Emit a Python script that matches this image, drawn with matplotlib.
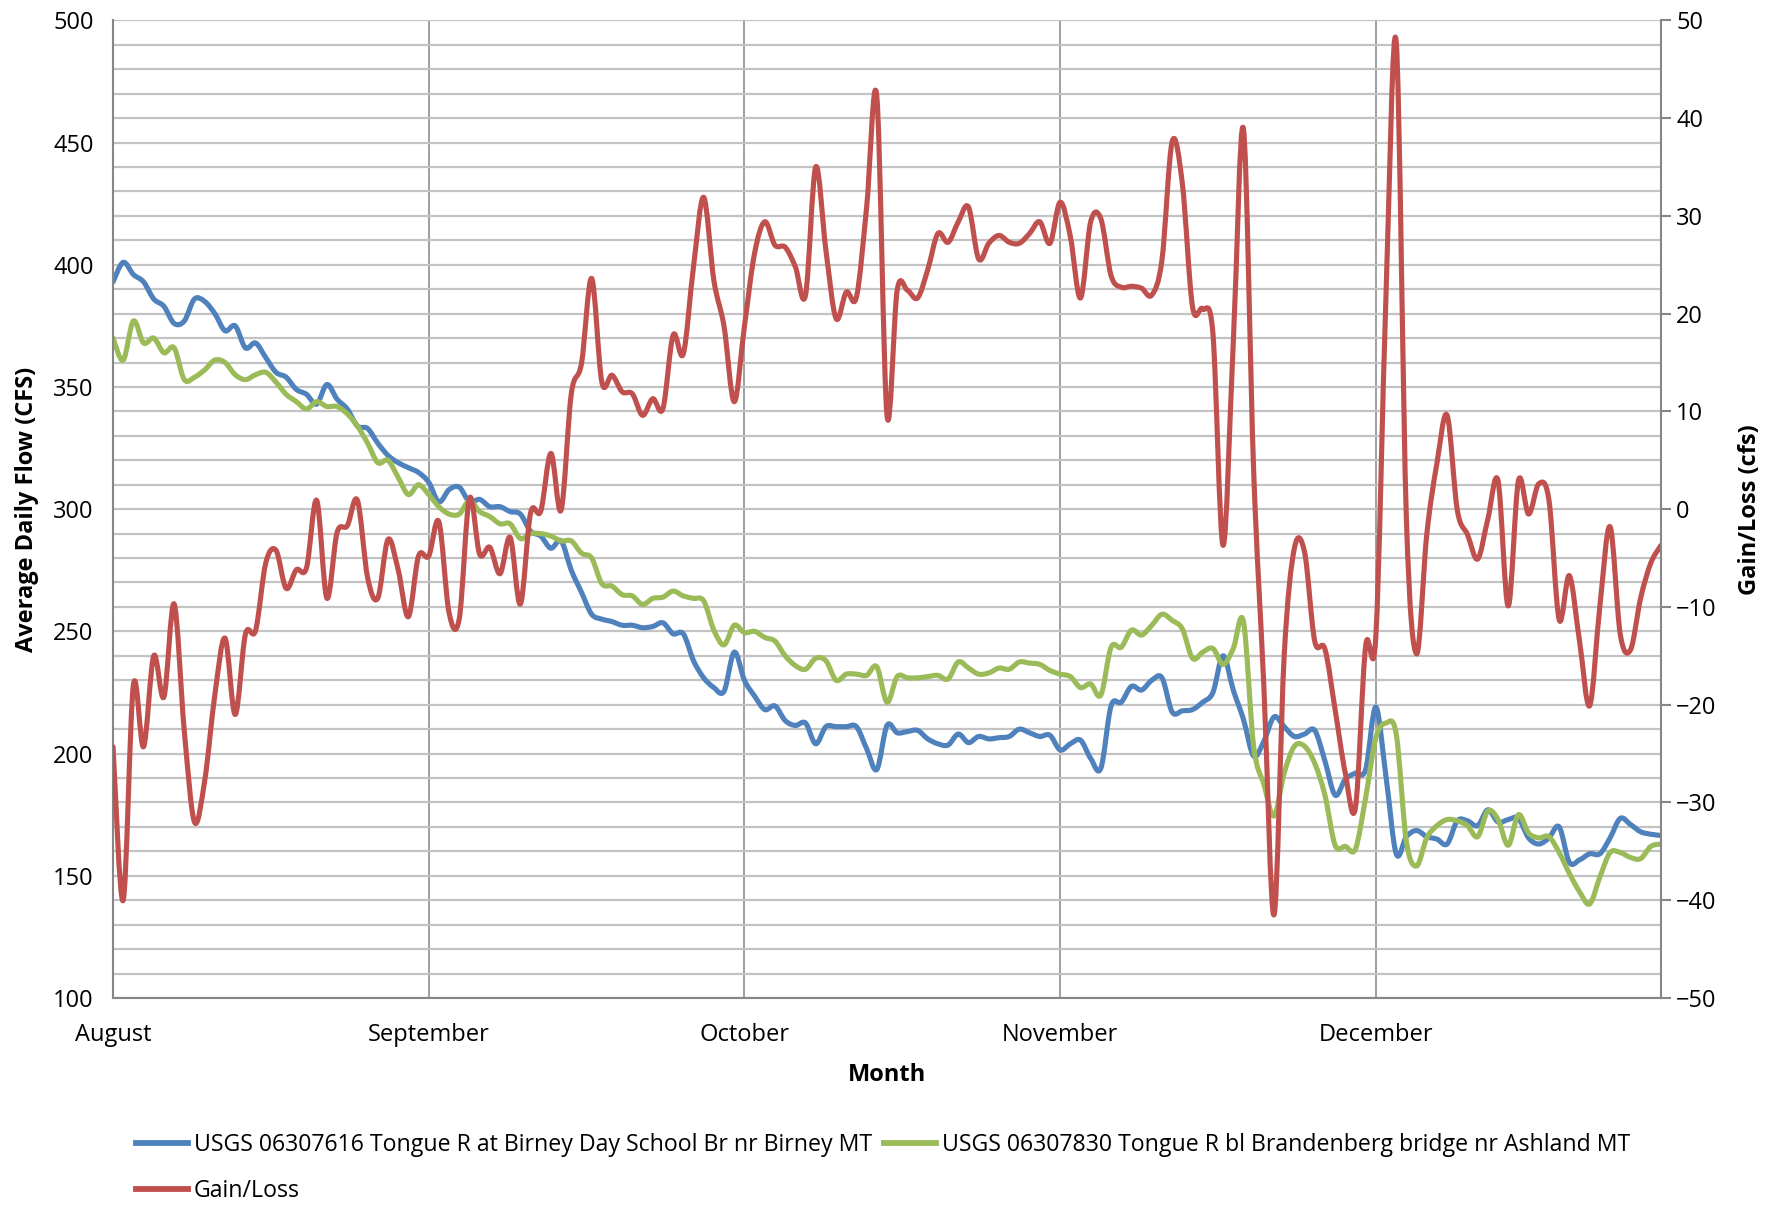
import matplotlib
matplotlib.use("Agg")
import matplotlib.pyplot as plt
import numpy as np
from matplotlib.lines import Line2D
from matplotlib.patches import PathPatch
from matplotlib.path import Path

# Daily values, 1 Aug .. 31 Dec (153 days); month labels every 31 days
DAYS = np.arange(153)
MONTH_TICKS = [0, 31, 62, 93, 124]
MONTH_LABELS = ["August", "September", "October", "November", "December"]

# USGS 06307616 Tongue R at Birney Day School Br nr Birney MT (cfs)
BIRNEY = [
    393, 401, 396, 393, 386, 383, 376, 377, 386, 385,
    380, 373, 375, 366, 368, 362, 356, 354, 349, 347,
    343, 351, 345, 341, 334, 333, 327, 322, 319, 317,
    315, 311, 303, 308, 309, 303, 304, 301, 301, 299,
    298, 291, 289, 284, 287, 275, 266, 257, 255, 254,
    252.5, 252.5, 251.5, 252, 253.5, 249, 249, 238, 231, 227,
    225.5, 241.5, 230, 223.5, 218, 219.5, 213.5, 211.5, 212.5, 204,
    211, 211, 211, 211, 202, 193.5, 211.5, 208.5, 209, 209.5,
    206, 204, 203.5, 208, 204.5, 207, 206, 206.5, 207, 210,
    208.5, 207, 207.5, 201.5, 204, 205.5, 198, 194, 219.5, 221,
    227.5, 226, 230, 231, 217, 217.5, 218, 221, 225, 240,
    226, 214, 199, 205, 215, 211, 207, 208, 209.5, 197,
    183, 189.5, 192, 193.5, 219, 190.5, 159, 166, 168.5, 166,
    165, 163, 172.5, 172.5, 170.5, 177, 172, 173, 173.5, 165.5,
    163, 165.5, 170, 155.5, 156.5, 159, 159, 165.5, 173.5, 171,
    168, 167, 166.5,
]

# USGS 06307830 Tongue R bl Brandenberg bridge nr Ashland MT (cfs)
ASHLAND = [
    370, 361, 377, 368, 370, 364, 366, 353, 354, 357,
    361, 360, 355, 353, 355, 356, 352, 347, 344, 341,
    344, 342, 342, 339, 334, 327, 319, 320, 313, 306,
    310, 306, 301, 298, 298, 303.5, 299, 297, 294, 294,
    288, 290, 290, 289, 287, 287, 282, 280, 269.5, 268.5,
    265, 264.5, 261, 263.5, 264, 266.5, 264.5, 263.5, 262.5, 250.5,
    244.5, 252.5, 249.5, 250, 247.5, 246, 240, 236, 234.5, 239,
    238, 230, 232.5, 232.5, 232, 235.5, 221, 231.5, 231, 231,
    231.5, 232, 230.5, 237.5, 235, 232.5, 233, 235, 234.5, 237.5,
    237, 236.5, 234, 232.5, 231.5, 227, 228.5, 224, 243.5, 243.5,
    250.5, 248.5, 252.5, 257, 254.5, 251, 239, 241.5, 243, 236.5,
    243, 254, 203, 187.5, 174.5, 192, 203, 203, 196, 183,
    162.5, 162, 161, 182, 206.5, 212.5, 208, 164, 154, 165.5,
    170.5, 173, 172.5, 170.5, 166, 176.5, 173, 162.5, 175, 167.5,
    165.5, 166, 159.5, 151, 143.5, 138.5, 149.5, 159.5, 159.5, 157.5,
    157, 162, 163,
]

# Gain/Loss between the two gauges (cfs, secondary axis)
GAIN_LOSS = [
    -24.3, -40, -18, -24.3, -15, -19.2, -9.7, -22.7, -32, -27.8,
    -19, -13.2, -21, -12.8, -12.4, -5.5, -4.2, -8.1, -6.2, -6,
    0.9, -9.1, -2.4, -1.7, 0.9, -7, -9.1, -3.1, -6.2, -11,
    -4.8, -4.8, -1.3, -10.6, -11.2, 1.1, -4.6, -3.9, -6.6, -2.9,
    -9.7, -0.4, -0.2, 5.7, -0.1, 11.8, 14.9, 23.6, 13, 13.7,
    12, 11.8, 9.6, 11.3, 10.3, 17.8, 15.9, 24.8, 31.9, 23.4,
    18.7, 11, 18.7, 26.2, 29.4, 27, 26.8, 24.8, 21.9, 35,
    26.5, 19.5, 22.2, 21.7, 30.9, 42.2, 9.6, 22.4, 22.4, 21.6,
    24.5, 28.2, 27.3, 29.4, 30.9, 25.6, 27.2, 28, 27.3, 27.2,
    28.2, 29.4, 27.2, 31.4, 27.9, 21.6, 29.4, 29.7, 23.9, 22.7,
    22.8, 22.6, 21.9, 25.5, 37.6, 33.3, 20.7, 20.5, 18, -3.7,
    17, 38.9, 4, -18, -41.5, -15, -4, -4.4, -13.5, -14.3,
    -20.5, -27, -30.5, -14, -13, 22, 47.8, -1, -14.8, -2.6,
    4.7, 9.6, -0.1, -2.6, -5.1, -1, 2.9, -9.9, 2.9, -0.5,
    2.6, 0.9, -11.3, -6.8, -13.5, -20.1, -9.9, -1.8, -12.8, -14.4,
    -9.1, -5.5, -3.7,
]

BLUE, GREEN, RED = "#4F81BD", "#9BBB59", "#C0504D"
AXIS_GRAY = "#868686"
LW = 3.7


def smooth_line(ax, x, y, color):
    # Excel-style "smoothed line": cubic Bezier through every data point
    x = np.asarray(x, float)
    y = np.asarray(y, float)
    n = len(x)
    verts, codes = [(x[0], y[0])], [Path.MOVETO]
    for i in range(n - 1):
        a = max(i - 1, 0)
        b = min(i + 2, n - 1)
        c1 = (x[i] + (x[i + 1] - x[a]) / 6, y[i] + (y[i + 1] - y[a]) / 6)
        c2 = (x[i + 1] - (x[b] - x[i]) / 6, y[i + 1] - (y[b] - y[i]) / 6)
        verts += [c1, c2, (x[i + 1], y[i + 1])]
        codes += [Path.CURVE4] * 3
    ax.add_patch(PathPatch(Path(verts, codes), fill=False, edgecolor=color,
                           lw=LW, joinstyle="round", capstyle="round"))
    return Line2D([], [], color=color, lw=LW + 0.5)


plt.rcParams["font.family"] = ["Open Sans", "DejaVu Sans"]

fig = plt.figure(figsize=(17.74, 12.05), dpi=100)
ax = fig.add_axes([0.0637, 0.1718, 0.8726, 0.8113])
ax2 = ax.twinx()

# primary axis
ax.set_xlim(0, 152)
ax.set_ylim(100, 500)
ax.set_yticks(range(100, 501, 50))
ax.set_yticks(range(100, 501, 10), minor=True)
ax.set_xticks(MONTH_TICKS)
ax.set_xticklabels(MONTH_LABELS)
ax.yaxis.grid(True, which="both", color="#c3c3c3", lw=1.6)
ax.xaxis.grid(True, color="#8f8f8f", lw=1.2)
ax.set_axisbelow(True)
ax.tick_params(axis="y", which="both", length=0, pad=14, labelsize=17)
ax.tick_params(axis="x", length=0, pad=18, labelsize=17)
for side in ("top", "right"):
    ax.spines[side].set_visible(False)
for side in ("left", "bottom"):
    ax.spines[side].set_color(AXIS_GRAY)
    ax.spines[side].set_linewidth(1.5)

# secondary axis
ax2.set_ylim(-50, 50)
ax2.set_yticks(range(-50, 51, 10))
ax2.tick_params(axis="y", direction="out", length=7, width=1.5,
                color=AXIS_GRAY, pad=4, labelsize=17)
for side in ("top", "left", "bottom"):
    ax2.spines[side].set_visible(False)
ax2.spines["right"].set_color(AXIS_GRAY)
ax2.spines["right"].set_linewidth(1.5)

h_b = smooth_line(ax, DAYS, BIRNEY, BLUE)
h_g = smooth_line(ax, DAYS, ASHLAND, GREEN)
h_r = smooth_line(ax2, DAYS, GAIN_LOSS, RED)

ax.set_ylabel("Average Daily Flow (CFS)", fontsize=17, fontweight="bold")
ax.yaxis.set_label_coords(-0.048, 0.5)
ax2.set_ylabel("Gain/Loss (cfs)", fontsize=17, fontweight="bold")
ax2.yaxis.set_label_coords(1.050, 0.5)
ax.set_xlabel("Month", fontsize=17, fontweight="bold")
ax.xaxis.set_label_coords(0.5, -0.067)

# legend: blue, green on first row, red on second (column-major fill)
fig.legend([h_b, h_r, h_g],
           ["USGS 06307616 Tongue R at Birney Day School Br nr Birney MT",
            "Gain/Loss",
            "USGS 06307830 Tongue R bl Brandenberg bridge nr Ashland MT"],
           ncol=2, loc="upper left", bbox_to_anchor=(0.0767, 0.0595),
           frameon=False, fontsize=16.7, handlelength=2.25, handletextpad=0.25,
           columnspacing=0.5, labelspacing=0.95, borderpad=0, borderaxespad=0)

fig.savefig("out.png", dpi=100)
